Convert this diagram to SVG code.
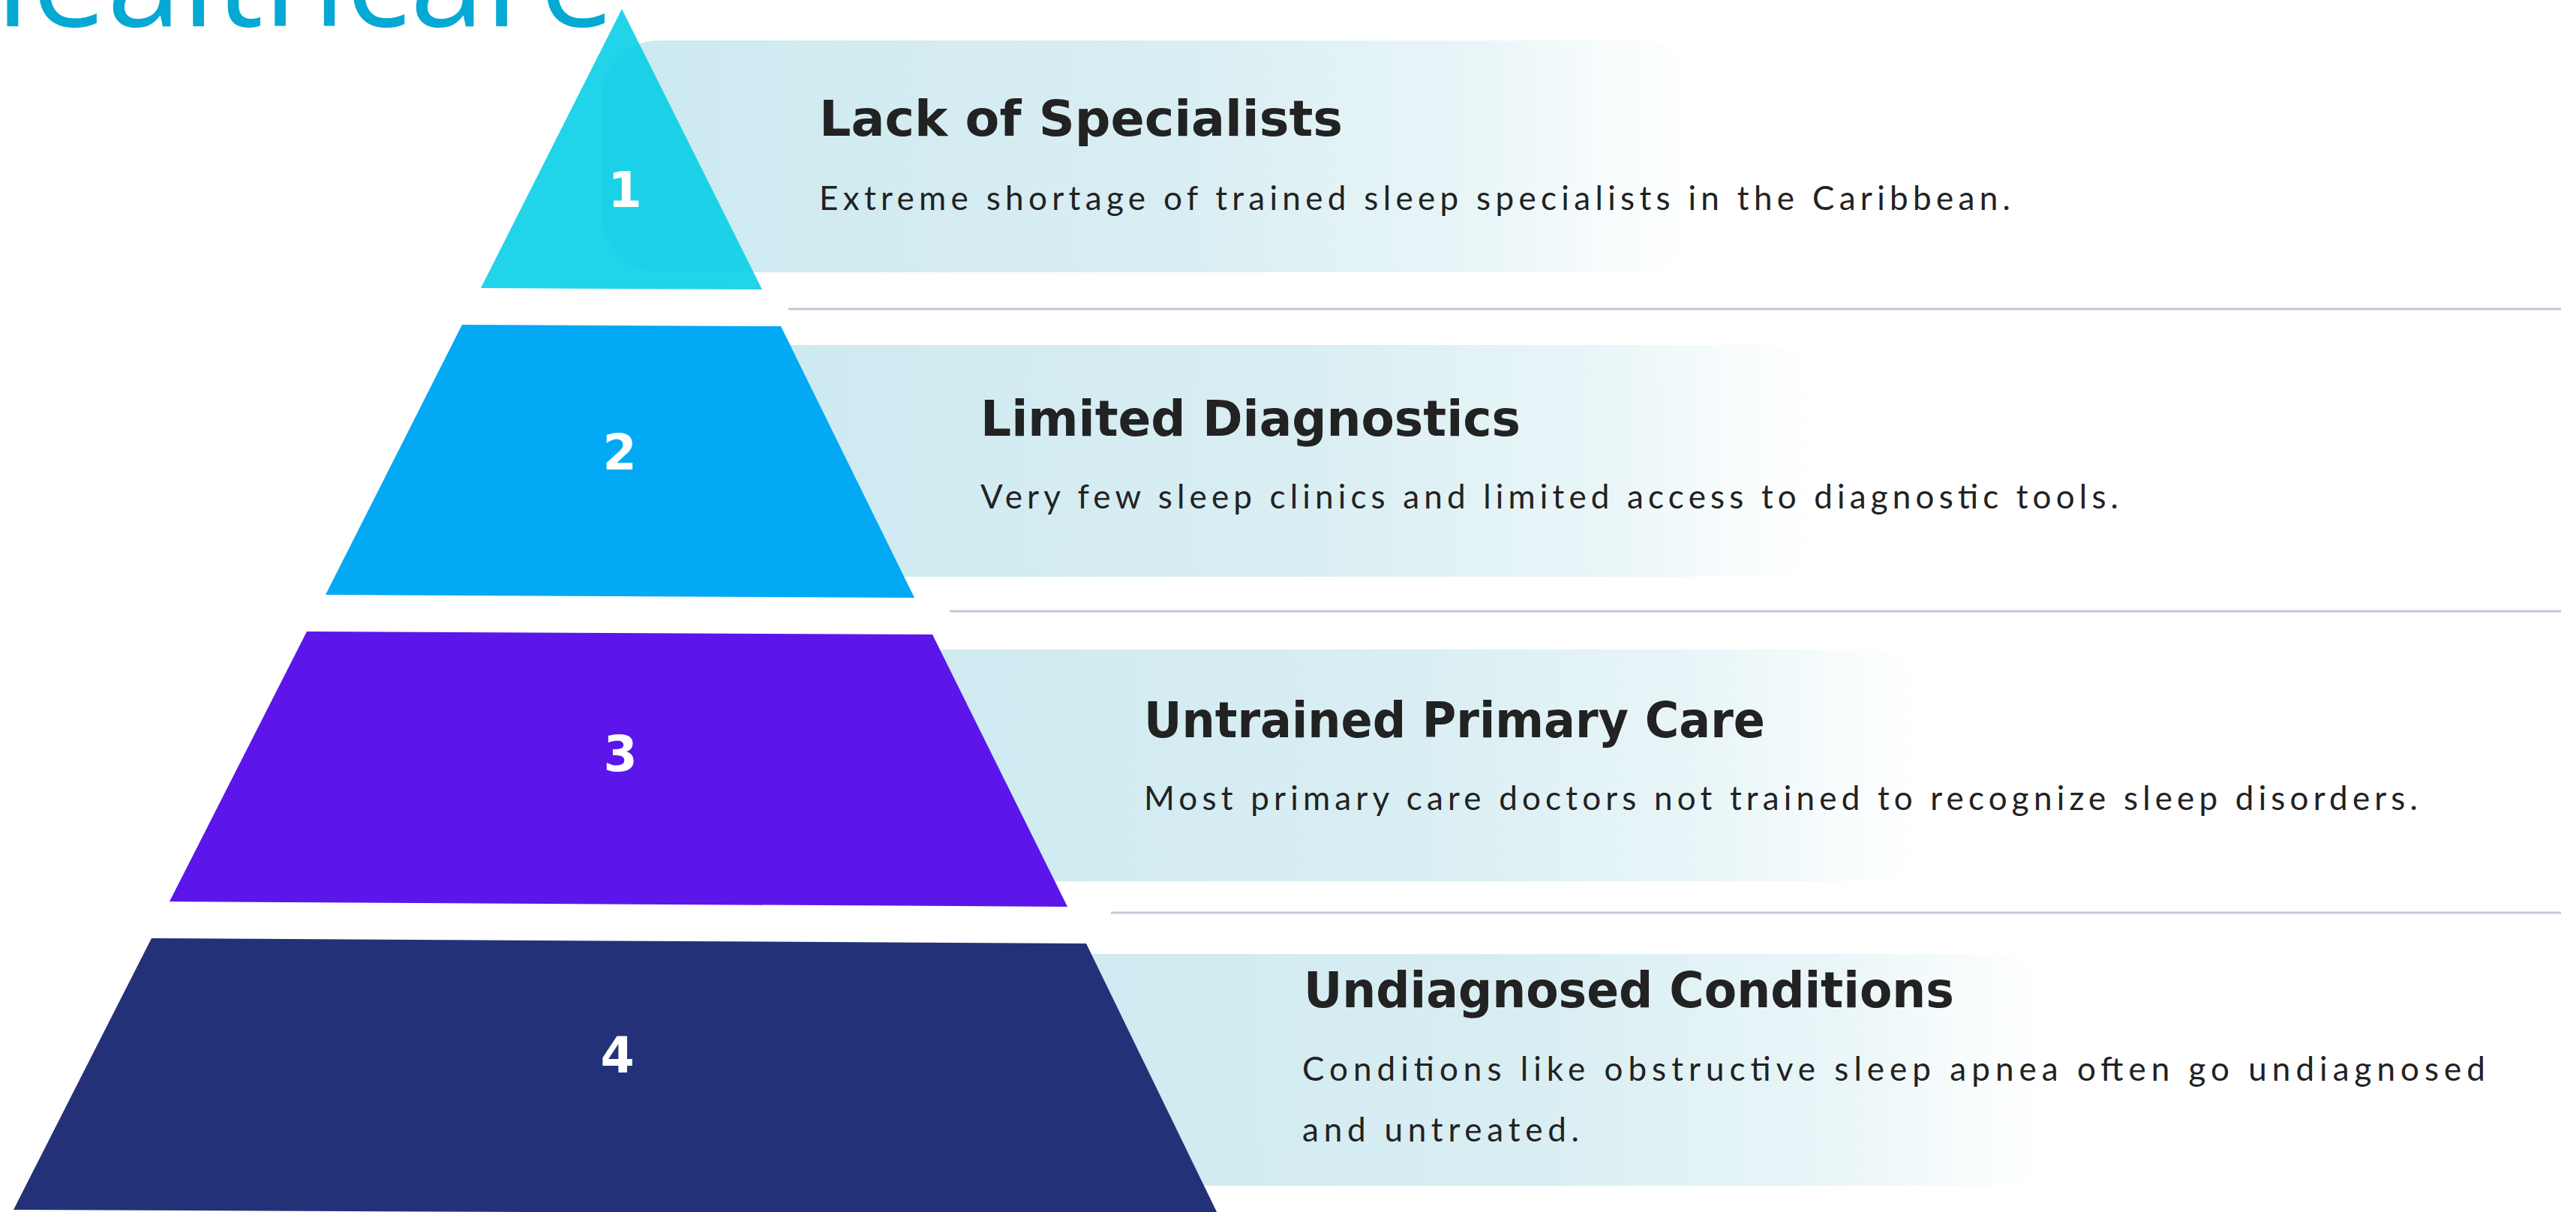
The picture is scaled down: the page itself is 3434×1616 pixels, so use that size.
<svg xmlns="http://www.w3.org/2000/svg" width="3434" height="1616" viewBox="0 0 3434 1616">
<style>
.bg{fill:#ffffff}
.box{fill:url(#fade)}
.num{font-family:"DejaVu Sans",sans-serif;font-weight:bold;font-size:65px;fill:#ffffff;text-anchor:middle}
.ttl{font-family:"DejaVu Sans",sans-serif;font-weight:bold;font-size:66px;fill:#222222}
.dsc{font-family:Lato,"Liberation Sans",sans-serif;font-size:44px;fill:#222222}
.sep{stroke:#c5c5d7;stroke-width:3;fill:none}
.head{font-family:"Open Sans","Noto Sans",sans-serif;font-size:179px;fill:#06a8d4}
</style>
<defs>
<linearGradient id="fade" x1="0" y1="0" x2="1" y2="0">
<stop offset="0" stop-color="#cce9f0"/>
<stop offset="0.53" stop-color="#d9eef3"/>
<stop offset="0.81" stop-color="#eaf6f8"/>
<stop offset="0.92" stop-color="#f8fcfd"/>
<stop offset="1" stop-color="#ffffff"/>
</linearGradient>
</defs>
<rect class="bg" x="0" y="0" width="3434" height="1616"/>
<g id="title">
<text class="head" x="-90" y="35">Healthcare</text>
</g>
<g id="connectors">
<line class="sep" x1="1051" y1="412" x2="3414" y2="412"/>
<line class="sep" x1="1266" y1="815" x2="3414" y2="815"/>
<line class="sep" x1="1481" y1="1217" x2="3414" y2="1217"/>
</g>
<g id="tier-1">
<rect class="box" x="802" y="54" width="1461" height="309" rx="76"/>
<polygon points="829,12 1016,386 641,384" fill="#00cee7" fill-opacity="0.87"/>
<text class="num" x="833" y="276">1</text>
<text class="ttl" x="1092" y="181" textLength="698" lengthAdjust="spacingAndGlyphs">Lack of Specialists</text>
<text class="dsc" x="1092" y="280" textLength="1588" lengthAdjust="spacing">Extreme shortage of trained sleep specialists in the Caribbean.</text>
</g>
<g id="tier-2">
<rect class="box" x="967" y="460" width="1461" height="309" rx="76"/>
<polygon points="616,433 1041,435 1219,797 434,793" fill="#03a9f4"/>
<text class="num" x="826" y="626">2</text>
<text class="ttl" x="1307" y="581" textLength="720" lengthAdjust="spacingAndGlyphs">Limited Diagnostics</text>
<text class="dsc" x="1307" y="678" textLength="1517" lengthAdjust="spacing">Very few sleep clinics and limited access to diagnostic tools.</text>
</g>
<g id="tier-3">
<rect class="box" x="1106" y="866" width="1461" height="309" rx="76"/>
<polygon points="409,842 1243,846 1423,1209 226,1202" fill="#5c16ea"/>
<text class="num" x="827" y="1028">3</text>
<text class="ttl" x="1525" y="983" textLength="828" lengthAdjust="spacingAndGlyphs">Untrained Primary Care</text>
<text class="dsc" x="1525" y="1080" textLength="1698" lengthAdjust="spacing">Most primary care doctors not trained to recognize sleep disorders.</text>
</g>
<g id="tier-4">
<rect class="box" x="1274" y="1272" width="1461" height="309" rx="76"/>
<polygon points="202,1251 1448,1258 1624,1620 18,1613" fill="#233278"/>
<text class="num" x="823" y="1430">4</text>
<text class="ttl" x="1738" y="1343" textLength="867" lengthAdjust="spacingAndGlyphs">Undiagnosed Conditions</text>
<text class="dsc" x="1736" y="1441" textLength="1577" lengthAdjust="spacing">Conditions like obstructive sleep apnea often go undiagnosed</text>
<text class="dsc" x="1736" y="1522" textLength="369" lengthAdjust="spacing">and untreated.</text>
</g>
</svg>
